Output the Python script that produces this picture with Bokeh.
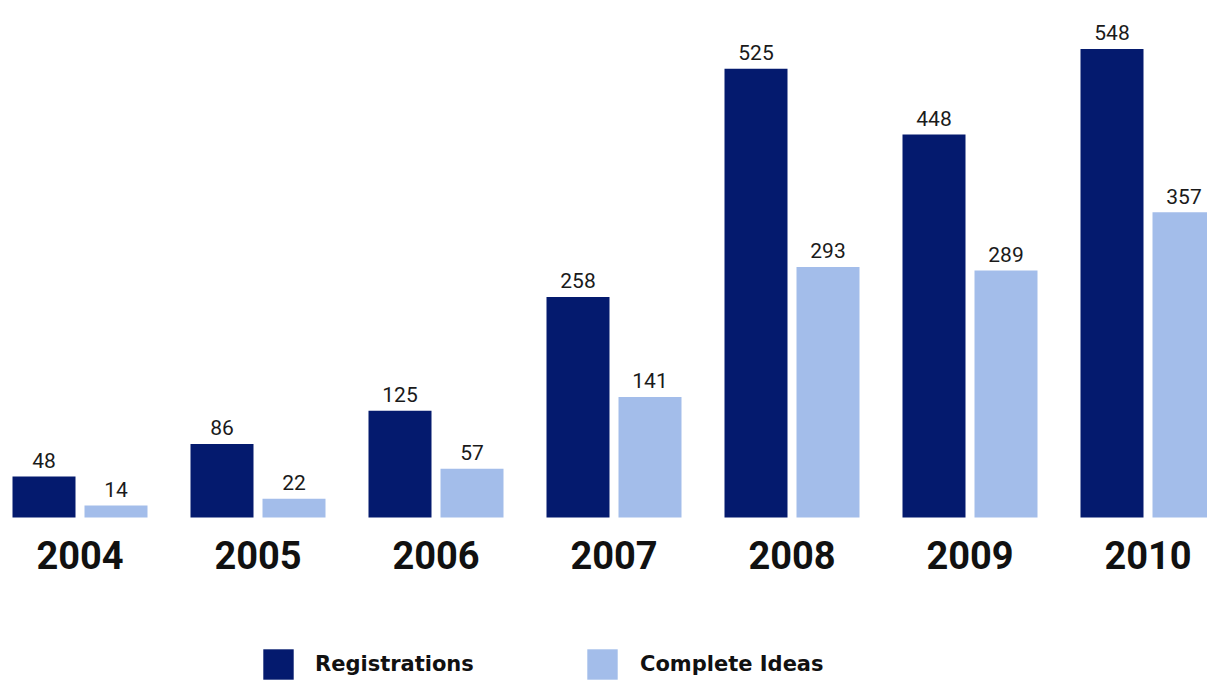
from bokeh.plotting import figure
from bokeh.models import ColumnDataSource, Range1d, Legend, LegendItem
from bokeh.core.properties import value
from bokeh.embed import file_html
from bokeh.resources import INLINE

years = ["2004", "2005", "2006", "2007", "2008", "2009", "2010"]
registrations = [48, 86, 125, 258, 525, 448, 548]
complete_ideas = [14, 22, 57, 141, 293, 289, 357]
series_names = ["Registrations", "Complete Ideas"]

DARK = "#041a6e"
LIGHT = "#a3bdea"

W, H = 1207, 682
px_per_group = 178.0
px_per_unit = 0.855
x0 = -79.5 / px_per_group
y_base_px = 517  # from top of frame

idx = list(range(len(years)))
off = 36.0 / px_per_group
bw = 63.0 / px_per_group

src = ColumnDataSource(dict(
    x=idx,
    xr=[i - off for i in idx],
    xc=[i + off for i in idx],
    reg=registrations,
    ci=complete_ideas,
    reg_t=[str(v) for v in registrations],
    ci_t=[str(v) for v in complete_ideas],
    year=years,
    zero=[0] * len(years),
))

p = figure(width=W, height=H, output_backend="svg", toolbar_location=None,
           min_border=0, min_border_left=0, min_border_right=0,
           min_border_top=0, min_border_bottom=0,
           x_range=Range1d(x0, x0 + W / px_per_group),
           y_range=Range1d(-(H - y_base_px) / px_per_unit, y_base_px / px_per_unit))
p.axis.visible = False
p.grid.visible = False
p.outline_line_color = None
p.background_fill_color = "white"
p.border_fill_color = "white"

r1 = p.vbar(x="xr", top="reg", bottom=0, width=bw, source=src, fill_color=DARK, line_color=None)
r2 = p.vbar(x="xc", top="ci", bottom=0, width=bw, source=src, fill_color=LIGHT, line_color=None)

common = dict(text_font=value("Roboto"), text_font_size="21px", text_color="#1a1a1a",
              text_align="center", text_baseline="middle", y_offset=-16)
p.text(x="xr", y="reg", text="reg_t", source=src, **common)
p.text(x="xc", y="ci", text="ci_t", source=src, **common)

p.text(x="x", y="zero", text="year", source=src, text_font=value("Roboto"),
       text_font_size="38px", text_font_style="bold", text_color="#111111",
       text_align="center", text_baseline="middle", y_offset=37)

def mk_legend(r, label, loc, standoff):
    lg = Legend(items=[LegendItem(label=label, renderers=[r])], location=loc,
                orientation="horizontal", glyph_width=38, glyph_height=38,
                label_standoff=standoff, padding=0, margin=0,
                label_text_font="DejaVu Sans", label_text_font_size="21px",
                label_text_font_style="bold", label_text_color="#111111",
                background_fill_alpha=0, border_line_alpha=0)
    p.add_layout(lg)

mk_legend(r1, series_names[0], (259, -1), 18)
mk_legend(r2, series_names[1], (583, -1), 19)

open("out.html", "w").write(file_html(p, INLINE))
